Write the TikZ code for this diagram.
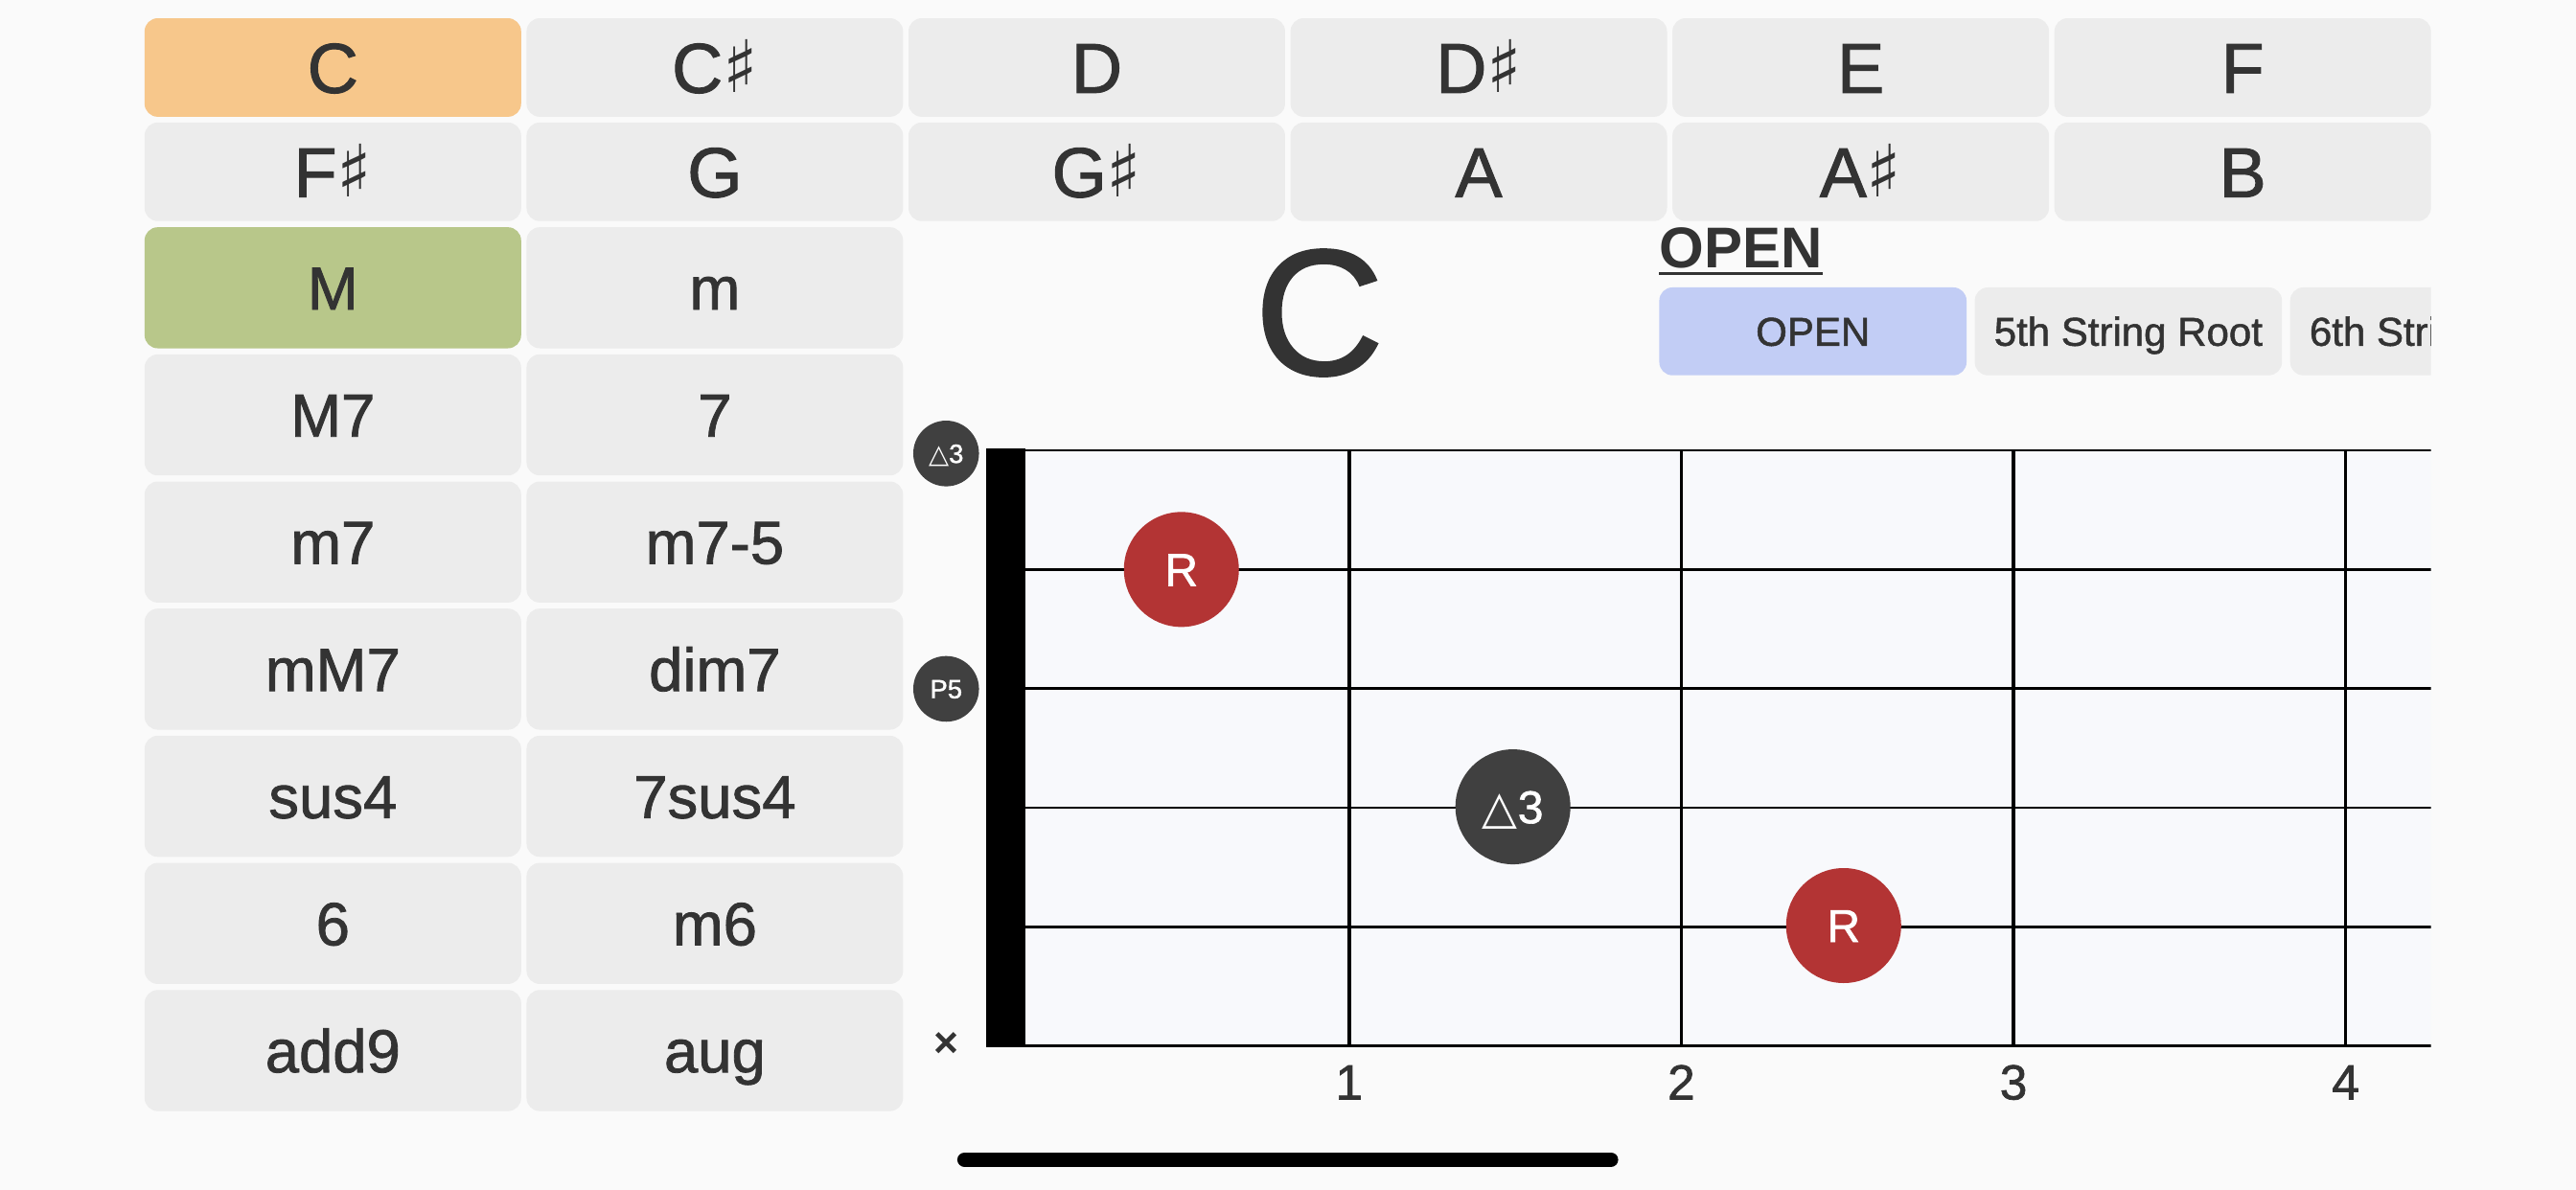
\documentclass[tikz,border=0pt]{standalone}
\usepackage{fontspec}
\setmainfont{Liberation Sans}[UprightFeatures={FakeBold=1.3}]
\newfontfamily\symfont{DejaVu Sans}
\definecolor{bg}{HTML}{FAFAFA}
\definecolor{btngray}{HTML}{ECECEC}
\definecolor{btnorange}{HTML}{F7C78B}
\definecolor{btngreen}{HTML}{B8C78A}
\definecolor{btnblue}{HTML}{C2CDF5}
\definecolor{txt}{HTML}{333333}
\definecolor{boardbg}{HTML}{F8F9FC}
\definecolor{rootred}{HTML}{B33434}
\definecolor{dotgray}{HTML}{404040}
\newcommand\shp{{\symfont\fontsize{44}{44}\selectfont ♯}}
\newcommand\tri{{\symfont △}}
\tikzset{
  notebtn/.style={fill=btngray, rounded corners=8pt, minimum width=229.2pt, minimum height=60pt,
    inner sep=0pt, text=txt, font=\fontsize{43}{43}\selectfont, text height=30.8pt, text depth=0pt},
  chordbtn/.style={fill=btngray, rounded corners=8pt, minimum width=229.2pt, minimum height=73.7pt,
    inner sep=0pt, text=txt, font=\fontsize{37}{37}\selectfont, text height=26.5pt, text depth=0pt},
  formbtn/.style={fill=btngray, rounded corners=8pt, minimum width=187pt, minimum height=53.5pt,
    inner sep=0pt, text=txt, font=\fontsize{24.5}{24.5}\selectfont, text height=17.5pt, text depth=0pt},
  bigdot/.style={circle, minimum size=70pt, inner sep=0pt, text=white,
    font=\fontsize{28}{28}\selectfont, text height=20pt, text depth=0pt},
  smalldot/.style={circle, fill=dotgray, minimum size=40pt, inner sep=0pt, text=white,
    font=\fontsize{16}{16}\selectfont, text height=11.4pt, text depth=0pt},
  fretnum/.style={inner sep=0pt, text=txt, font=\fontsize{30}{30}\selectfont, text height=21.5pt, text depth=0pt},
  stringline/.style={line width=1.6pt, black},
  fretline/.style={line width=2pt, black}
}
\begin{document}
\begin{tikzpicture}[x=1pt,y=-1pt]
\useasboundingbox (0,0) rectangle (1568,724.5);
\fill[bg] (0,0) rectangle (1568,724.5);

% note buttons
\foreach \lab/\i/\j/\col in {C/0/0/btnorange, C\shp/1/0/btngray, D/2/0/btngray, D\shp/3/0/btngray, E/4/0/btngray, F/5/0/btngray,
  F\shp/0/1/btngray, G/1/1/btngray, G\shp/2/1/btngray, A/3/1/btngray, A\shp/4/1/btngray, B/5/1/btngray}
  \node[notebtn, fill=\col] (n\i\j) at ({88+114.6+232.5*\i},{41.1+63.5*\j}) {\lab};

% chord buttons
\foreach \lab/\i/\j/\col in {M/0/0/btngreen, m/1/0/btngray, M7/0/1/btngray, 7/1/1/btngray,
  m7/0/2/btngray, m7-5/1/2/btngray, mM7/0/3/btngray, dim7/1/3/btngray,
  sus4/0/4/btngray, 7sus4/1/4/btngray, 6/0/5/btngray, m6/1/5/btngray,
  add9/0/6/btngray, aug/1/6/btngray}
  \node[chordbtn, fill=\col] (c\i\j) at ({88+114.6+232.5*\i},{175.2+77.4*\j}) {\lab};

% big chord name
\node[inner sep=0pt, text=txt, font=\fontsize{109}{109}\selectfont, text height=78pt, text depth=0pt] (chord) at (803,189) {C};

% form heading
\node[anchor=south west, inner sep=0pt, text=txt, font=\bfseries\fontsize{35}{35}\selectfont, text height=25pt, text depth=0pt] (hd) at (1010,163) {OPEN};
\draw[txt, line width=2pt] ([yshift=-3.5pt]hd.south west) -- ([yshift=-3.5pt]hd.south east);

\begin{scope}
\clip (0,0) rectangle (1479.7,724.5);
% form buttons
\node[formbtn, fill=btnblue] (fo) at (1103.5,201.75) {OPEN};
\node[formbtn] (f5) at (1295.5,201.75) {5th String Root};
\node[formbtn] (f6) at (1487.5,201.75) {6th String Root};

% fretboard
\fill[boardbg] (624.2,274.2) rectangle (1479.7,636.7);
\foreach \k in {0,...,5}
  \draw[stringline] (600.3,{274.2+72.5*\k}) -- (1479.7,{274.2+72.5*\k});
\foreach \x in {821.2,1023.4,1225.6,1427.8}
  \draw[fretline] (\x,274.2) -- (\x,636.7);
\fill[black] (600.3,273.2) rectangle (624.2,637.7);
\end{scope}

% open string markers
\node[smalldot] (o3) at (575.9,276.1) {\tri3};
\node[smalldot] (o5) at (575.9,419.4) {P5};
\node[inner sep=0pt, text=txt, font=\bfseries\fontsize{26}{26}\selectfont] (mx) at (575.9,636) {×};

% fretted notes
\node[bigdot, fill=rootred] (r1) at (719.1,346.7) {R};
\node[bigdot, fill=dotgray] (t3) at (920.9,491.2) {\tri3};
\node[bigdot, fill=rootred] (r2) at (1122.2,563.5) {R};

% fret numbers
\node[fretnum] (fn1) at (821.2,658.6) {1};
\node[fretnum] (fn2) at (1023.4,658.6) {2};
\node[fretnum] (fn3) at (1225.6,658.6) {3};
\node[fretnum] (fn4) at (1427.8,658.6) {4};

% home indicator
\coordinate (hl) at (587.2,706);
\coordinate (hr) at (980.5,706);
\draw[black, line width=9pt, line cap=round] (hl) -- (hr);
\end{tikzpicture}
\end{document}
